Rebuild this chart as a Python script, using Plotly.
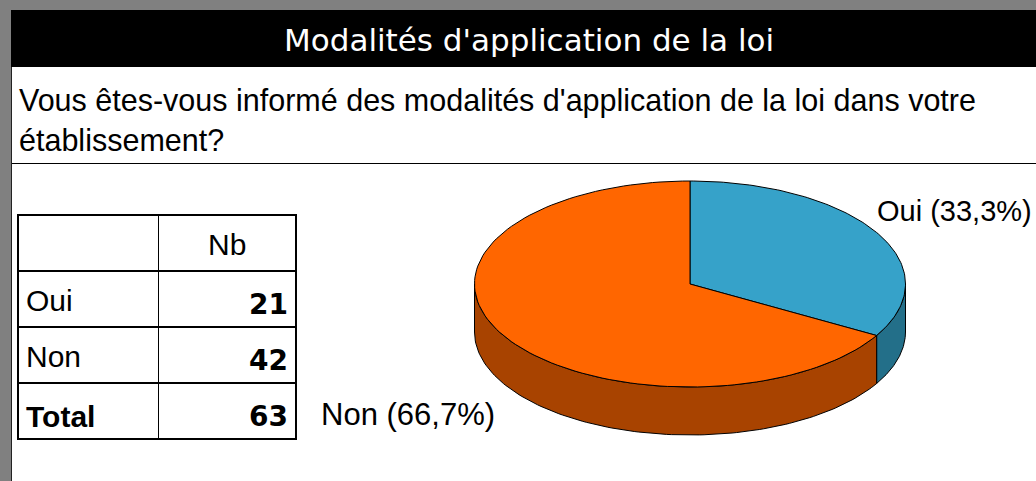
import math
import plotly.graph_objects as go

# ---- data ----
categories = ["Oui", "Non"]
counts = [21, 42]
total_label = "Total"
col_header = "Nb"
title_text = "Modalités d'application de la loi"
question_lines = ["Vous êtes-vous informé des modalités d'application de la loi dans votre",
                  "établissement?"]

top_colors = ["#36A2C9", "#FF6600"]
side_colors = ["#236F89", "#A84300"]

W, H = 1036, 481
total = sum(counts)

fig = go.Figure()

# ---- 3D pie built from the values ----
cx, cy, rx, ry, depth = 690, 284, 215.5, 103, 48


def pt(theta_deg, dy=0.0):
    t = math.radians(theta_deg)
    return cx + rx * math.sin(t), cy - ry * math.cos(t) + dy


def arc(a0, a1, dy=0.0, n=120):
    xs, ys = [], []
    for i in range(n + 1):
        a = a0 + (a1 - a0) * i / n
        x, y = pt(a, dy)
        xs.append(x)
        ys.append(y)
    return xs, ys


starts = []
acc = 0.0
for v in counts:
    a0 = acc / total * 360
    acc += v
    a1 = acc / total * 360
    starts.append((a0, a1))

# side walls (only the front half, 90..270 deg, is visible)
for (a0, a1), col in zip(starts, side_colors):
    s0, s1 = max(a0, 90), min(a1, 270)
    if s1 <= s0:
        continue
    tx, ty = arc(s0, s1)
    bx, by = arc(s1, s0, dy=depth)
    fig.add_trace(go.Scatter(x=tx + bx + [tx[0]], y=ty + by + [ty[0]], mode="lines",
                             fill="toself", fillcolor=col,
                             line=dict(color="black", width=1),
                             hoverinfo="skip", showlegend=False))

# top faces
for (a0, a1), col, name, v in zip(starts, top_colors, categories, counts):
    tx, ty = arc(a0, a1)
    fig.add_trace(go.Scatter(x=[cx] + tx + [cx], y=[cy] + ty + [cy], mode="lines",
                             fill="toself", fillcolor=col,
                             line=dict(color="black", width=1),
                             name=name, hoverinfo="name", showlegend=False))


def pct(v):
    return f"{v / total * 100:.1f}".replace(".", ",") + "%"


label_font = dict(family="Liberation Sans, Arial, sans-serif", size=31, color="black")
fig.add_annotation(x=1034, y=211, xref="x", yref="y", text=f"{categories[0]} ({pct(counts[0])})",
                   showarrow=False, xanchor="right", yanchor="middle",
                   font=dict(family="Liberation Sans, Arial, sans-serif", size=29, color="black"))
fig.add_annotation(x=497, y=414, xref="x", yref="y", text=f"{categories[1]} ({pct(counts[1])})",
                   showarrow=False, xanchor="right", yanchor="middle", font=label_font)

# ---- table ----
reg = "Liberation Sans, Arial, sans-serif"
bold = "DejaVu Sans, sans-serif"
col1 = categories + [f"<b>{total_label}</b>"]
col2 = [f"<b>{v}</b>" for v in counts] + [f"<b>{total}</b>"]
tbl_x = [18 / W, 297 / W]
row_h = 56

# grid (borders)
fig.add_trace(go.Table(
    domain=dict(x=tbl_x, y=[0, 1 - 215 / H]),
    columnwidth=[141, 138],
    header=dict(values=["", ""], height=row_h, fill_color="white",
                line=dict(color="black", width=1.5)),
    cells=dict(values=[[""] * 3, [""] * 3], height=row_h, fill_color="white",
               line=dict(color="black", width=1.5)),
))
# text layer, nudged down so the labels sit in the middle of each cell
fig.add_trace(go.Table(
    domain=dict(x=tbl_x, y=[0, 1 - 224 / H]),
    columnwidth=[141, 138],
    header=dict(values=["", col_header], height=row_h,
                fill_color="rgba(0,0,0,0)", line=dict(color="rgba(0,0,0,0)", width=0),
                align=["left", "center"],
                font=dict(family=reg, size=30, color="black")),
    cells=dict(values=[col1, col2], height=row_h,
               fill_color="rgba(0,0,0,0)", line=dict(color="rgba(0,0,0,0)", width=0),
               align=["left", "right"],
               font=dict(family=[reg, bold], size=[30, 28], color="black")),
))

# ---- frame, title bar, question ----
shapes = [
    dict(type="rect", xref="x", yref="y", x0=12, x1=W, y0=67, y1=H,
         fillcolor="white", line=dict(width=0), layer="below"),
    dict(type="rect", xref="x", yref="y", x0=11, x1=W, y0=10, y1=67,
         fillcolor="black", line=dict(width=0), layer="below"),
    dict(type="line", xref="x", yref="y", x0=11.5, x1=11.5, y0=67, y1=H,
         line=dict(color="#222222", width=1), layer="below"),
    dict(type="line", xref="x", yref="y", x0=12, x1=W, y0=163.5, y1=163.5,
         line=dict(color="black", width=1), layer="below"),
]

fig.add_annotation(x=529, y=40, xref="x", yref="y", text=title_text, showarrow=False,
                   xanchor="center", yanchor="middle",
                   font=dict(family="DejaVu Sans, sans-serif", size=31, color="white"))
for i, line in enumerate(question_lines):
    fig.add_annotation(x=17, y=100 + 40 * i, xref="x", yref="y", text=line, showarrow=False,
                       xanchor="left", yanchor="middle",
                       font=dict(family=reg, size=30.5, color="black"))

fig.update_layout(
    width=W, height=H,
    margin=dict(l=0, r=0, t=0, b=0),
    paper_bgcolor="#808080",
    plot_bgcolor="rgba(0,0,0,0)",
    xaxis=dict(range=[0, W], domain=[0, 1], visible=False, fixedrange=True),
    yaxis=dict(range=[H, 0], domain=[0, 1], visible=False, fixedrange=True),
    shapes=shapes,
    showlegend=False,
)

fig.write_html("out.html", config={"displayModeBar": False},
               post_script="document.body.style.margin='0';document.body.style.overflow='hidden';")
